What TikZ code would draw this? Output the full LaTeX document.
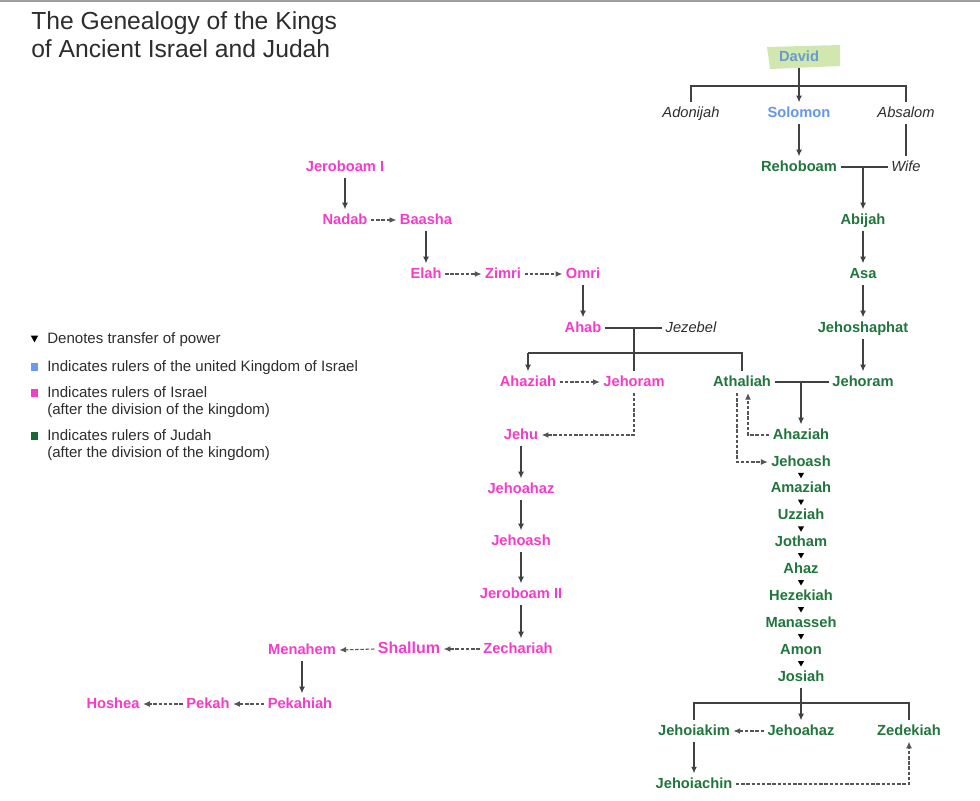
\documentclass[tikz,border=0pt]{standalone}
\usepackage{fontspec}
\setmainfont{Liberation Sans}
\usetikzlibrary{arrows.meta,calc}
\definecolor{pinkc}{RGB}{245,60,200}
\definecolor{greenc}{RGB}{32,118,60}
\definecolor{bluec}{RGB}{100,150,240}
\definecolor{davidc}{RGB}{105,155,205}
\definecolor{davidbg}{RGB}{208,232,176}
\definecolor{linec}{RGB}{65,65,65}
\definecolor{dashc}{RGB}{85,85,85}
\definecolor{textc}{RGB}{45,45,45}
\definecolor{lgreen}{RGB}{25,105,55}
\definecolor{lblue}{RGB}{105,155,240}
\definecolor{lpink}{RGB}{245,60,200}
\tikzset{
  base/.style={inner sep=2.5pt, text height=8.5pt, text depth=2pt, font=\fontsize{11}{13}\selectfont\bfseries},
  isr/.style={base, text=pinkc},
  jud/.style={base, text=greenc},
  uni/.style={base, text=bluec},
  other/.style={base, font=\fontsize{11}{13}\selectfont\itshape, text=textc},
  legend/.style={inner sep=0pt, anchor=base west, font=\fontsize{11.3}{13}\selectfont, text=textc},
  titletext/.style={inner sep=0pt, anchor=base west, font=\fontsize{18.5}{20}\selectfont, text=textc},
  conn/.style={draw=linec, line width=0.95pt},
  arr/.style={conn, -{Latex[length=5pt,width=4.4pt]}},
  darr/.style={draw=dashc, line width=0.8pt, dash pattern=on 2.6pt off 1.3pt, -{Latex[length=5pt,width=4.4pt]}},
}
\begin{document}
\begin{tikzpicture}[x=0.75pt,y=-0.75pt]
\useasboundingbox (0,0) rectangle (980,800);
\fill[white] (0,0) rectangle (980,800);
\coordinate (topL) at (0,1);
\coordinate (topR) at (980,1);
\draw[gray!75, line width=1.5pt] (topL) -- (topR);

% title
\node[titletext] (title1) at (31,29) {The Genealogy of the Kings};
\node[titletext] (title2) at (31,57) {of Ancient Israel and Judah};

% legend
\fill[black] (34.5,338.5) +(-3.8,-3) -- +(3.8,-3) -- +(0,3.8) -- cycle;
\node[legend] (lg1) at (47,343) {Denotes transfer of power};
\fill[lblue] (30.5,363) rectangle (38,370.5);
\node[legend] (lg2) at (47,371) {Indicates rulers of the united Kingdom of Israel};
\fill[lpink] (30.5,389) rectangle (38,396.5);
\node[legend] (lg3) at (47,397) {Indicates rulers of Israel};
\node[legend] (lg4) at (47,414) {(after the division of the kingdom)};
\fill[lgreen] (30.5,432) rectangle (38,439.5);
\node[legend] (lg5) at (47,440) {Indicates rulers of Judah};
\node[legend] (lg6) at (47,457) {(after the division of the kingdom)};

% David
\fill[davidbg] (767,47) -- (840,45) -- (840,66) -- (770,69) -- cycle;
\node[base, text=davidc] (david) at (799,57) {David};

% top of tree
\node[other] (adonijah) at (691,113) {Adonijah};
\node[uni] (solomon) at (799,113) {Solomon};
\node[other] (absalom) at (906,113) {Absalom};
\node[jud] (rehoboam) at (799,167) {Rehoboam};
\node[other] (wife) at (906,167) {Wife};

\coordinate (dR) at (906,86);
\draw[conn] (adonijah.north) -- (adonijah.north |- dR) -- (dR) -- (absalom.north);
\draw[arr] (david.south) -- (solomon.north);
\draw[arr] (solomon.south) -- (rehoboam.north);
\draw[conn] (absalom.south) -- (wife.north);
\draw[conn] (rehoboam.east) -- (wife.west);

% Judah
\node[jud] (abijah) at (863,220) {Abijah};
\node[jud] (asa) at (863,274) {Asa};
\node[jud] (jehoshaphat) at (863,328) {Jehoshaphat};
\node[jud] (jehoramJ) at (863,382) {Jehoram};
\node[jud] (athaliah) at (742,382) {Athaliah};
\node[jud] (ahaziahJ) at (801,435) {Ahaziah};
\node[jud] (jehoash) at (801,462) {Jehoash};
\node[jud] (amaziah) at (801,488.5) {Amaziah};
\node[jud] (uzziah) at (801,515.5) {Uzziah};
\node[jud] (jotham) at (801,542) {Jotham};
\node[jud] (ahaz) at (801,569) {Ahaz};
\node[jud] (hezekiah) at (801,596) {Hezekiah};
\node[jud] (manasseh) at (801,623) {Manasseh};
\node[jud] (amon) at (801,650) {Amon};
\node[jud] (josiah) at (801,677) {Josiah};
\node[jud] (jehoiakim) at (694,731) {Jehoiakim};
\node[jud] (jehoahazJ) at (801,731) {Jehoahaz};
\node[jud] (zedekiah) at (909,731) {Zedekiah};
\node[jud] (jehoiachin) at (694,784) {Jehoiachin};

\coordinate (rw) at (863,167);
\draw[arr] (rw) -- (abijah.north);
\draw[arr] (abijah.south) -- (asa.north);
\draw[arr] (asa.south) -- (jehoshaphat.north);
\draw[arr] (jehoshaphat.south) -- (jehoramJ.north);
\draw[conn] (athaliah.east) -- (jehoramJ.west);
\coordinate (aj) at (801,382);
\draw[arr] (aj) -- (ahaziahJ.north);
\coordinate (athA) at (748,393);
\coordinate (athB) at (737,393);
\draw[darr] (ahaziahJ.west) -| (athA);
\draw[darr] (athB) |- (jehoash.west);

\foreach \a/\b in {jehoash/amaziah, amaziah/uzziah, uzziah/jotham, jotham/ahaz, ahaz/hezekiah, hezekiah/manasseh, manasseh/amon, amon/josiah}{
  \path (\a) -- (\b) coordinate[midway] (m);
  \fill[black] (m) +(-3,-2.3) -- +(3,-2.3) -- +(0,3) -- cycle;
}

\coordinate (jR) at (909,703);
\draw[conn] (jehoiakim.north) |- (jR) -- (zedekiah.north);
\draw[arr] (josiah.south) -- (jehoahazJ.north);
\draw[darr] (jehoahazJ.west) -- (jehoiakim.east);
\draw[arr] (jehoiakim.south) -- (jehoiachin.north);
\draw[darr] (jehoiachin.east) -| (zedekiah.south);

% Israel
\node[isr] (jeroboamI) at (345,167) {Jeroboam I};
\node[isr] (nadab) at (345,220) {Nadab};
\node[isr] (baasha) at (426,220) {Baasha};
\node[isr] (elah) at (426,274) {Elah};
\node[isr] (zimri) at (503,274) {Zimri};
\node[isr] (omri) at (583,274) {Omri};
\node[isr] (ahab) at (583,328) {Ahab};
\node[other] (jezebel) at (691,328) {Jezebel};
\node[isr] (ahaziahI) at (528,382) {Ahaziah};
\node[isr] (jehoramI) at (634,382) {Jehoram};
\node[isr] (jehu) at (521,435) {Jehu};
\node[isr] (jehoahazI) at (521,489) {Jehoahaz};
\node[isr] (jehoashI) at (521,541) {Jehoash};
\node[isr] (jeroboamII) at (521,594) {Jeroboam II};
\node[isr] (zechariah) at (518,649) {Zechariah};
\node[isr, font=\fontsize{12}{14}\selectfont\bfseries] (shallum) at (409,649) {Shallum};
\node[isr] (menahem) at (302,650) {Menahem};
\node[isr] (pekahiah) at (300,704) {Pekahiah};
\node[isr] (pekah) at (208,704) {Pekah};
\node[isr] (hoshea) at (113,704) {Hoshea};

\draw[arr] (jeroboamI.south) -- (nadab.north);
\draw[darr] (nadab.east) -- (baasha.west);
\draw[arr] (baasha.south) -- (elah.north);
\draw[darr] (elah.east) -- (zimri.west);
\draw[darr] (zimri.east) -- (omri.west);
\draw[arr] (omri.south) -- (ahab.north);
\draw[conn] (ahab.east) -- (jezebel.west);
\coordinate (ajz) at (634,328);
\draw[conn] (ajz) -- (jehoramI.north);
\coordinate (abL) at (528,353);
\coordinate (abR) at (742,353);
\draw[conn] (abL) -- (abR) -- (athaliah.north);
\draw[arr] (abL) -- (ahaziahI.north);
\draw[darr] (ahaziahI.east) -- (jehoramI.west);
\draw[darr] (jehoramI.south) |- (jehu.east);
\draw[arr] (jehu.south) -- (jehoahazI.north);
\draw[arr] (jehoahazI.south) -- (jehoashI.north);
\draw[arr] (jehoashI.south) -- (jeroboamII.north);
\draw[arr] (jeroboamII.south) -- (jeroboamII.south |- zechariah.north);
\draw[darr] (zechariah.west) -- (shallum.east);
\draw[darr] (shallum.west) -- (menahem.east);
\draw[arr] (menahem.south) -- (menahem.south |- pekahiah.north);
\draw[darr] (pekahiah.west) -- (pekah.east);
\draw[darr] (pekah.west) -- (hoshea.east);
\end{tikzpicture}
\end{document}
